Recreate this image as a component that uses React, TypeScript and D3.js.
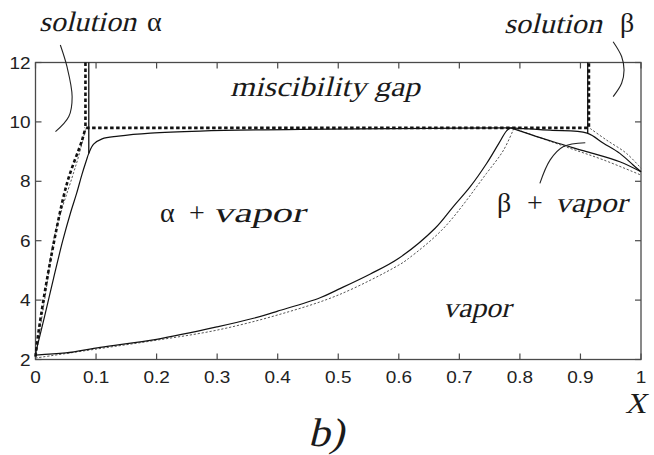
import React from "react";
import * as d3 from "d3";

// Phase diagram: solutions α / β, miscibility gap and vapor region
const xTicks = [0, 0.1, 0.2, 0.3, 0.4, 0.5, 0.6, 0.7, 0.8, 0.9, 1];
const xTickLabels = ["0", "0.1", "0.2", "0.3", "0.4", "0.5", "0.6", "0.7", "0.8", "0.9", "1"];
const yTicks = [2, 4, 6, 8, 10, 12];
const yTickLabels = ["2", "4", "6", "8", "10", "12"];

type P = [number, number];

// model (solid)
const solidAlphaBranch: P[] = [
  [0, 2.2], [0.015, 3.45], [0.03, 4.75], [0.045, 6.0], [0.058, 6.95], [0.068, 7.6],
  [0.077, 8.25], [0.084, 8.7], [0.088, 8.94], [0.096, 9.25], [0.11, 9.43],
  [0.137, 9.52], [0.19, 9.62], [0.272, 9.69], [0.437, 9.75], [0.652, 9.78], [0.785, 9.8],
];
const solidVaporBranch: P[] = [
  [0, 2.15], [0.05, 2.22], [0.107, 2.41], [0.2, 2.68], [0.3, 3.1], [0.36, 3.39],
  [0.4, 3.63], [0.47, 4.08], [0.5, 4.36], [0.553, 4.88], [0.6, 5.41], [0.66, 6.42],
  [0.69, 7.15], [0.718, 7.82], [0.745, 8.6], [0.765, 9.27], [0.778, 9.7], [0.785, 9.8],
];
const solidBetaUpper: P[] = [
  [0.785, 9.8], [0.85, 9.72], [0.911, 9.62], [0.938, 9.28], [0.965, 8.94], [0.987, 8.55], [1, 8.32],
];
const solidBetaLower: P[] = [
  [0.785, 9.8], [0.855, 9.33], [0.91, 9.0], [0.965, 8.66], [1, 8.32],
];
const solidGapLeft: P[] = [[0.088, 12], [0.088, 8.94]];
const solidGapRight: P[] = [[0.912, 12], [0.912, 9.62]];

// experiment (thin dotted)
const dottedAlphaBranch: P[] = [
  [0, 2.05], [0.015, 4.0], [0.033, 6.3], [0.06, 8.1], [0.071, 8.83], [0.0825, 9.75],
];
const dottedVaporBranch: P[] = [
  [0, 2.05], [0.1, 2.35], [0.2, 2.65], [0.3, 2.99], [0.4, 3.5], [0.5, 4.17],
  [0.6, 5.18], [0.616, 5.4], [0.674, 6.42], [0.745, 8.27], [0.773, 9.05], [0.79, 9.78],
];
const dottedBetaLower: P[] = [
  [0.79, 9.78], [0.883, 9.11], [0.938, 8.72], [1, 8.21],
];
const dottedBetaUpper: P[] = [
  [0.916, 9.78], [0.943, 9.39], [0.976, 8.94], [1, 8.44],
];

// miscibility gap boundary (thick dashed)
const gapBoundary: P[] = [
  [0.0825, 12], [0.0825, 9.8], [0.914, 9.8], [0.914, 12],
];
const dashedAlphaBranch: P[] = [
  [0, 2.1], [0.0055, 3.0], [0.025, 5.37], [0.052, 7.93], [0.077, 9.39], [0.0825, 9.8],
];

// leader lines for labels
const leaderAlpha: P[] = [[0.041, 12.59], [0.052, 11.86], [0.0605, 10.85], [0.055, 10.18], [0.033, 9.67]];
const leaderBeta: P[] = [[0.954, 12.7], [0.968, 12.2], [0.972, 11.75], [0.968, 11.3], [0.954, 10.85]];
const leaderBetaVapor: P[] = [[0.833, 7.93], [0.85, 8.72], [0.872, 9.17], [0.908, 9.3]];

const W = 654;
const H = 455;

const SERIF = "'Liberation Serif', 'Times New Roman', serif";
const SANS = "'Liberation Sans', Arial, Helvetica, sans-serif";

// Slanted serif label (upright glyphs sheared into italics)
function Slanted(props: { x: number; y: number; size: number; width?: number; children: string }) {
  const { x, y, size, width, children } = props;
  return (
    <text
      transform={`translate(${x},${y}) skewX(-14)`}
      style={{ fontFamily: SERIF, fontSize: size, fontStyle: "normal" }}
      textLength={width}
      lengthAdjust={width ? "spacingAndGlyphs" : undefined}
    >
      {children}
    </text>
  );
}

function Upright(props: { x: number; y: number; size: number; children: string }) {
  const { x, y, size, children } = props;
  return (
    <text x={x} y={y} style={{ fontFamily: SERIF, fontSize: size, fontStyle: "normal" }}>
      {children}
    </text>
  );
}

export default function App() {
  const x = d3.scaleLinear().domain([0, 1]).range([35.5, 641]);
  const y = d3.scaleLinear().domain([2, 12]).range([359.5, 62.5]);
  const line = d3
    .line<P>()
    .x((d) => x(d[0]))
    .y((d) => y(d[1]))
    .curve(d3.curveCatmullRom.alpha(0.5));
  const straight = d3
    .line<P>()
    .x((d) => x(d[0]))
    .y((d) => y(d[1]));

  const axisColor = "#4a4a4a";
  const tickLen = 6;

  const [x0, x1] = x.range();
  const [y0, y1] = y.range();

  return (
    <svg width={W} height={H} style={{ position: "absolute", left: 0, top: 0, background: "#fff" }}>
      <rect x={0} y={0} width={W} height={H} fill="#fff" />
      {/* frame */}
      <rect x={x0} y={y1} width={x1 - x0} height={y0 - y1} fill="none" stroke={axisColor} strokeWidth={1.3} />
      {/* ticks */}
      {xTicks.map((t) => (
        <g key={"xt" + t}>
          <line x1={x(t)} x2={x(t)} y1={y0} y2={y0 - tickLen} stroke={axisColor} strokeWidth={1.2} />
          <line x1={x(t)} x2={x(t)} y1={y1} y2={y1 + tickLen} stroke={axisColor} strokeWidth={1.2} />
        </g>
      ))}
      {yTicks.map((t) => (
        <g key={"yt" + t}>
          <line x1={x0} x2={x0 + tickLen} y1={y(t)} y2={y(t)} stroke={axisColor} strokeWidth={1.2} />
          <line x1={x1} x2={x1 - tickLen} y1={y(t)} y2={y(t)} stroke={axisColor} strokeWidth={1.2} />
        </g>
      ))}
      {/* tick labels */}
      {xTicks.map((t, i) => (
        <text
          key={"xl" + t}
          transform={`translate(${x(t)},${y0 + 23}) scale(1.15,1)`}
          textAnchor="middle"
          style={{ fontFamily: SANS, fontSize: 16.5 }}
          fill="#222"
        >
          {xTickLabels[i]}
        </text>
      ))}
      {yTicks.map((t, i) => (
        <text
          key={"yl" + t}
          transform={`translate(${x0 - 5},${y(t) + 6}) scale(1.15,1)`}
          textAnchor="end"
          style={{ fontFamily: SANS, fontSize: 16.5 }}
          fill="#222"
        >
          {yTickLabels[i]}
        </text>
      ))}

      {/* thin dotted curves */}
      {[dottedAlphaBranch, dottedVaporBranch, dottedBetaLower, dottedBetaUpper].map((d, i) => (
        <path key={"dot" + i} d={line(d) || ""} fill="none" stroke="#555" strokeWidth={1} strokeDasharray="2.2,1.8" />
      ))}
      {/* thick dashed gap boundary */}
      <path d={straight(gapBoundary) || ""} fill="none" stroke="#111" strokeWidth={2.6} strokeDasharray="3.5,2.5" />
      <path d={line(dashedAlphaBranch) || ""} fill="none" stroke="#111" strokeWidth={2.6} strokeDasharray="3.5,2.5" />
      {/* solid curves */}
      {[solidAlphaBranch, solidVaporBranch, solidBetaUpper, solidBetaLower].map((d, i) => (
        <path key={"sol" + i} d={line(d) || ""} fill="none" stroke="#111" strokeWidth={1.2} />
      ))}
      {[solidGapLeft, solidGapRight].map((d, i) => (
        <path key={"sv" + i} d={straight(d) || ""} fill="none" stroke="#111" strokeWidth={1.3} />
      ))}

      {/* leader lines */}
      {[leaderAlpha, leaderBeta, leaderBetaVapor].map((d, i) => (
        <path key={"ld" + i} d={line(d) || ""} fill="none" stroke="#222" strokeWidth={1.1} />
      ))}

      {/* region labels */}
      <g fill="#1a1a1a">
        <Slanted x={39} y={31} size={28} width={97}>solution</Slanted>
        <Upright x={147} y={31} size={28}>α</Upright>
        <Slanted x={504} y={33} size={28} width={98}>solution</Slanted>
        <Upright x={620} y={32} size={28}>β</Upright>
        <Slanted x={230} y={96} size={28} width={190}>miscibility gap</Slanted>
        <Upright x={160} y={222} size={28}>α</Upright>
        <Upright x={189} y={222} size={28}>+</Upright>
        <Slanted x={213} y={222} size={28} width={92}>vapor</Slanted>
        <Upright x={497} y={212} size={28}>β</Upright>
        <Upright x={527} y={212} size={28}>+</Upright>
        <Slanted x={555} y={212} size={28} width={72}>vapor</Slanted>
        <Slanted x={443} y={317} size={28} width={68}>vapor</Slanted>
        <Slanted x={625} y={413} size={29} width={21}>X</Slanted>
        <Slanted x={308} y={446} size={40} width={36}>b)</Slanted>
      </g>
    </svg>
  );
}
